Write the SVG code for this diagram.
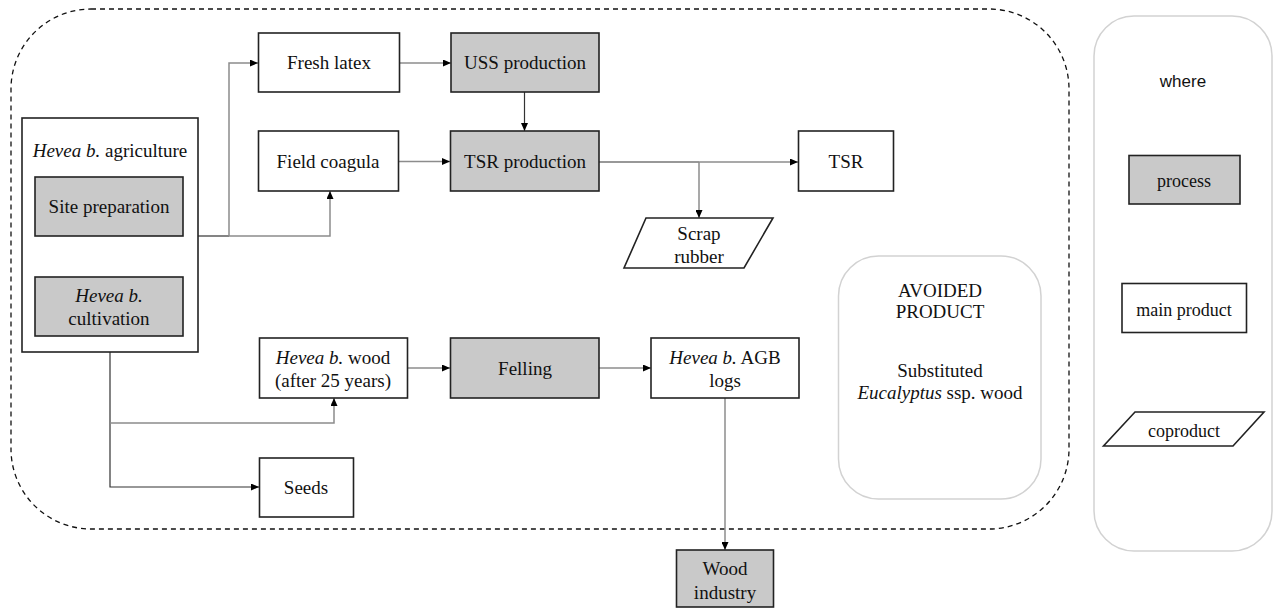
<svg xmlns="http://www.w3.org/2000/svg" width="1274" height="608" viewBox="0 0 1274 608">
  <defs>
    <marker id="arrow" viewBox="0 0 8 7" refX="8" refY="3.5" markerWidth="8" markerHeight="7" markerUnits="userSpaceOnUse" orient="auto">
      <path d="M0,0 L8,3.5 L0,7 z" fill="#000"/>
    </marker>
    <style>
      .t { font-family: "Liberation Serif", "Times New Roman", serif; font-size: 19px; fill: #111; text-anchor: middle; }
      .tl { font-family: "Liberation Serif", "Times New Roman", serif; font-size: 18px; fill: #111; text-anchor: middle; }
      .sans { font-family: "Liberation Sans", Arial, sans-serif; font-size: 17px; fill: #111; text-anchor: middle; }
      .proc { fill: #c9c9c9; stroke: #222; stroke-width: 1.6; }
      .prod { fill: #fff; stroke: #222; stroke-width: 1.6; }
      .soft { fill: #fff; stroke: #d2d2d2; stroke-width: 1.5; }
      .boundary { fill: none; stroke: #111; stroke-width: 1.3; stroke-dasharray: 5 4; }
      .dark { fill: none; stroke: #333; stroke-width: 1.2; }
      .grey { fill: none; stroke: #8c8c8c; stroke-width: 1.5; }
      .arr { marker-end: url(#arrow); }
    </style>
  </defs>

  <!-- system boundary -->
  <rect id="boundary" class="boundary" x="11" y="9" width="1058" height="520" rx="80" ry="80"/>

  <!-- connectors -->
  <g id="connectors">
    <path class="dark arr" d="M110,236 V277"/>
    <path class="dark" d="M198,236 H229"/>
    <path class="grey arr" d="M229,236 V63 H258"/>
    <path class="grey arr" d="M229,236 H330 V191"/>
    <path class="grey arr" d="M400,63 H451"/>
    <path class="grey arr" d="M398,161.5 H450"/>
    <path class="dark arr" d="M524.5,92 V131"/>
    <path class="dark" d="M599,162 H699"/>
    <path class="grey arr" d="M699,162 H798"/>
    <path class="grey arr" d="M699,162 V218"/>
    <path class="dark arr" d="M110,352 V487 H259"/>
    <path class="grey arr" d="M110,423 H334 V398"/>
    <path class="grey arr" d="M407,368 H450"/>
    <path class="grey arr" d="M599,368 H651"/>
    <path class="grey arr" d="M725,398 V550"/>
  </g>

  <!-- Hevea b. agriculture (container with two processes) -->
  <g id="agriculture">
    <rect class="prod" x="22" y="118" width="176" height="234"/>
    <text class="t" x="110" y="157"><tspan font-style="italic">Hevea b.</tspan> agriculture</text>
  </g>
  <g id="site-preparation">
    <rect class="proc" x="35" y="177" width="148" height="59"/>
    <text class="t" x="109" y="213">Site preparation</text>
  </g>
  <g id="cultivation">
    <rect class="proc" x="35" y="277" width="148" height="59"/>
    <text class="t" x="109" y="302" font-style="italic">Hevea b.</text>
    <text class="t" x="109" y="325">cultivation</text>
  </g>

  <g id="fresh-latex">
    <rect class="prod" x="258.5" y="33" width="141" height="59"/>
    <text class="t" x="329" y="69">Fresh latex</text>
  </g>
  <g id="field-coagula">
    <rect class="prod" x="258.5" y="131" width="140" height="60"/>
    <text class="t" x="328" y="168">Field coagula</text>
  </g>
  <g id="uss-production">
    <rect class="proc" x="451" y="33" width="148" height="59"/>
    <text class="t" x="525" y="69">USS production</text>
  </g>
  <g id="tsr-production">
    <rect class="proc" x="450.5" y="131" width="148.5" height="60"/>
    <text class="t" x="525" y="168">TSR production</text>
  </g>
  <g id="tsr">
    <rect class="prod" x="798.5" y="131" width="95" height="60"/>
    <text class="t" x="846" y="168">TSR</text>
  </g>
  <g id="scrap-rubber">
    <polygon class="prod" points="646,218 773,218 744,268 624,268"/>
    <text class="t" x="699" y="240">Scrap</text>
    <text class="t" x="699" y="263">rubber</text>
  </g>

  <g id="hevea-wood">
    <rect class="prod" x="259.5" y="338" width="148" height="60"/>
    <text class="t" x="333" y="364"><tspan font-style="italic">Hevea b.</tspan> wood</text>
    <text class="t" x="333" y="387">(after 25 years)</text>
  </g>
  <g id="felling">
    <rect class="proc" x="450.5" y="338" width="148.5" height="60"/>
    <text class="t" x="525" y="375">Felling</text>
  </g>
  <g id="agb-logs">
    <rect class="prod" x="651" y="338" width="148" height="60"/>
    <text class="t" x="725" y="364"><tspan font-style="italic">Hevea b.</tspan> AGB</text>
    <text class="t" x="725" y="387">logs</text>
  </g>
  <g id="seeds">
    <rect class="prod" x="259.5" y="458" width="94" height="59"/>
    <text class="t" x="306" y="494">Seeds</text>
  </g>
  <g id="wood-industry">
    <rect class="proc" x="676.5" y="550" width="97" height="57"/>
    <text class="t" x="725" y="575">Wood</text>
    <text class="t" x="725" y="599">industry</text>
  </g>

  <!-- avoided product -->
  <g id="avoided-product">
    <rect class="soft" x="838.5" y="256" width="202.5" height="243" rx="40" ry="40"/>
    <text class="t" x="940" y="297">AVOIDED</text>
    <text class="t" x="940" y="318">PRODUCT</text>
    <text class="t" x="940" y="377">Substituted</text>
    <text class="t" x="940" y="399"><tspan font-style="italic">Eucalyptus</tspan> ssp. wood</text>
  </g>

  <!-- legend -->
  <g id="legend">
    <rect class="soft" x="1094" y="16" width="178" height="535" rx="40" ry="40"/>
    <text class="sans" x="1183" y="87">where</text>
    <rect class="proc" x="1129" y="155.5" width="111" height="48.5"/>
    <text class="tl" x="1184" y="187">process</text>
    <rect class="prod" x="1122" y="283.5" width="124.5" height="49"/>
    <text class="tl" x="1184" y="316">main product</text>
    <polygon class="prod" points="1135,412 1264,412 1233,446 1103.5,446"/>
    <text class="tl" x="1184" y="437">coproduct</text>
  </g>
</svg>
